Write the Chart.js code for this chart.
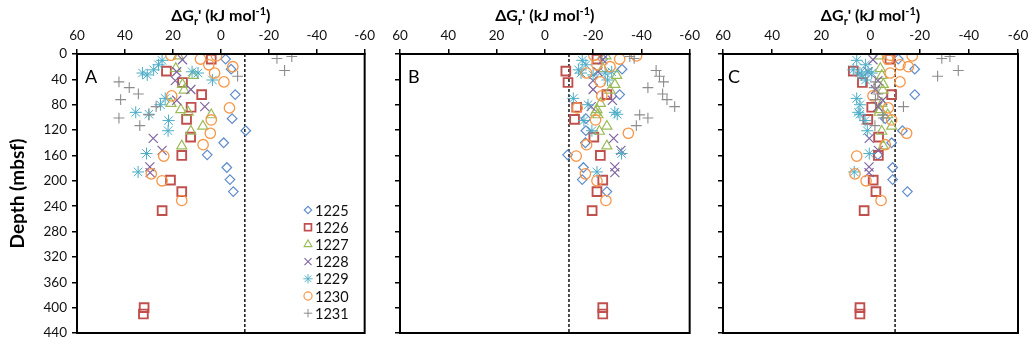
<!DOCTYPE html>
<html>
<head>
<meta charset="utf-8">
<script src="https://cdn.jsdelivr.net/npm/chart.js@4.4.1/dist/chart.umd.min.js"></script>
<style>
html,body{margin:0;padding:0;background:#fff;width:1034px;height:347px;overflow:hidden}
.panel{position:absolute;top:0;height:347px}
canvas{display:block}
</style>
</head>
<body>
<div class="panel" style="left:0;width:380px"><canvas id="cA" width="380" height="347"></canvas></div>
<div class="panel" style="left:380px;width:325px"><canvas id="cB" width="325" height="347"></canvas></div>
<div class="panel" style="left:705px;width:329px"><canvas id="cC" width="329" height="347"></canvas></div>
<script>
// ---------- DATA ----------
const sites = ['1225', '1226', '1227', '1228', '1229', '1230', '1231'];
const xTickValues = [60, 40, 20, 0, -20, -40, -60];
const yTickValues = [0, 40, 80, 120, 160, 200, 240, 280, 320, 360, 400, 440];
const thresholdDG = [-10];

// depths (mbsf) of the samples of each site
const depth1225 = [8, 24, 64, 102, 121, 140, 159, 179, 198, 217];
const depth1226 = [8, 27, 45, 64, 84, 103, 131, 160, 199, 217, 247, 400, 410];
const depth1227 = [3, 23, 34, 48, 57, 78, 88, 92, 96, 114, 122, 145];
const depth1228 = [9, 28, 42, 56, 73, 83, 133, 152, 178, 187];
const depth1229 = [10, 17, 25, 30, 33, 28, 30, 41, 70, 80, 92, 95, 105, 121, 157, 186];
const depth1230 = [2, 8, 3, 17, 20, 30, 44, 66, 85, 104, 125, 143, 161, 189, 200, 231];
const depth1231 = [4, 7, 26, 35, 44, 53, 63, 72, 83, 96, 101, 113];

// panel A  (ΔGr', kJ/mol)
const dgA1225 = [-2, -4.3, -6, -4.7, -10.4, -1.2, 5.7, -2.5, -3.8, -5.2];
const dgA1226 = [4, 22.7, 16, 8, 12.4, 14.3, 12.6, 16.3, 21, 16.3, 24.5, 32, 32.3];
const dgA1227 = [17.7, 18.8, 11.5, 16, 15.3, 20.8, 16.7, 13.6, 4, 7.5, 12.5, 16.3];
const dgA1228 = [16, 18.4, 19, 12.5, 18.4, 6.7, 28.2, 24.5, 29.6, 29.5];
const dgA1229 = [24.5, 26, 28, 32.7, 30.7, 12, 9.5, 3.5, 23.2, 25.2, 35.5, 30, 21.8, 22, 31, 34.5];
const dgA1230 = [20.8, 8.5, 1.8, 5, -5, 2.6, -1.3, 20.5, -3.6, 4, 4.4, 7.4, 23.8, 29, 24.5, 16.3];
const dgA1231 = [-29.6, -23.4, -26.6, -7, 42.5, 38.2, 34.4, 41.8, 27, 30, 42.5, 33.8];

// panel B
const dgB1225 = [-24, -32, -31, -17, -17, -16.8, -9.4, -16, -15.5, -25.7];
const dgB1226 = [-21.6, -8.7, -9.6, -25.7, -13.2, -12.3, -20.3, -23, -24, -21.6, -19.6, -24, -24];
const dgB1227 = [-25.3, -24, -29.8, -29, -27, -23, -21.6, -21, -22, -25.7, -22.6, -25.7];
const dgB1228 = [-24, -22, -20, -20, -28, -19.2, -28.5, -31.5, -29, -29];
const dgB1229 = [-15.5, -17, -14, -15, -20, -27.7, -25, -26, -11.8, -17.9, -29, -30, -16.2, -19.5, -31.8, -21.6];
const dgB1230 = [-20.3, -31, -38, -21.6, -27, -17.3, -23, -23.6, -13.4, -21, -34.6, -17.3, -13, -16.8, -21.6, -25.3];
const dgB1231 = [-35.2, -37, -46.1, -47.5, -49.2, -42.7, -48.8, -50.6, -53.8, -39.3, -42.7, -37.9];

// panel C
const dgC1225 = [-11.3, -18, -18, -6, -13, -8.6, -3, -9, -9, -15];
const dgC1226 = [-7.9, 7, 3.3, -8.6, -0.5, 1.1, -3.3, -3.2, -1.1, -2.2, 2.6, 4.3, 4.3];
const dgC1227 = [-3.5, -4, -4.6, -5.2, -5, -4.6, -3.9, -3.5, -7, -8.6, -4.6, -5.2];
const dgC1228 = [-1, 1, -3, -2, -5, -3, 0.5, -3.2, 0.6, 0.6];
const dgC1229 = [5.6, 2, 7, 4.3, 3.6, 1, -0.5, 2, 5.6, 4.3, 5, 4.3, 2.2, 1.3, 0.5, 6.6];
const dgC1230 = [-8, -7, -17, -12, -15.4, -8, -12, -1, -7.2, -8.6, -14.7, -6, 5.6, 6.3, 1.8, -4.3];
const dgC1231 = [-32.3, -29, -35.7, -27.3, -2, -1.5, -3, -2, -13.4, -5, -5.2, -1.8];

// ---------- STYLE ----------
const depths = [depth1225, depth1226, depth1227, depth1228, depth1229, depth1230, depth1231];
const panelA = [dgA1225, dgA1226, dgA1227, dgA1228, dgA1229, dgA1230, dgA1231];
const panelB = [dgB1225, dgB1226, dgB1227, dgB1228, dgB1229, dgB1230, dgB1231];
const panelC = [dgC1225, dgC1226, dgC1227, dgC1228, dgC1229, dgC1230, dgC1231];

const colors = ['#5f8ccb', '#c0504d', '#9bbb59', '#8064a2', '#4bacc6', '#f79646', '#8c8c8c'];
const pstyles = ['rectRot', 'rect', 'triangle', 'crossRot', 'star', 'circle', 'cross'];
const radii = [4.8, 6.2, 5.8, 6.4, 6.0, 5.2, 5.4];
const bws = [1.2, 1.9, 1.2, 1.2, 1.0, 1.3, 1.1];
const FONT = 'Lato, "Open Sans", sans-serif';

function drawTitle(ctx, cx, base) {
  const big = 'bold 16px ' + FONT, small = 'bold 11px ' + FONT;
  const parts = [
    ['ΔG', big, 0], ['r', small, 4], ["' (kJ mol", big, 0], ['-1', small, -6], [')', big, 0]
  ];
  let w = 0;
  parts.forEach(p => { ctx.font = p[1]; w += ctx.measureText(p[0]).width; });
  let x = cx - w / 2;
  ctx.fillStyle = '#000';
  ctx.textAlign = 'left';
  ctx.textBaseline = 'alphabetic';
  parts.forEach(p => { ctx.font = p[1]; ctx.fillText(p[0], x, base + p[2]); x += ctx.measureText(p[0]).width; });
}

function drawLegend(ctx) {
  const drawPoint = Chart.helpers && Chart.helpers.drawPoint;
  sites.forEach((s, i) => {
    const y = 210 + i * 17.2;
    ctx.save();
    ctx.strokeStyle = colors[i];
    ctx.fillStyle = 'rgba(0,0,0,0)';
    ctx.lineWidth = bws[i] * 0.9;
    if (drawPoint) drawPoint(ctx, {pointStyle: pstyles[i], radius: radii[i] * 0.78, rotation: 0, borderWidth: bws[i] * 0.9}, 308, y);
    ctx.restore();
    ctx.fillStyle = '#111';
    ctx.font = '14.5px ' + FONT;
    ctx.textAlign = 'left';
    ctx.textBaseline = 'middle';
    ctx.fillText(s, 315, y + 1);
  });
}

const deco = {
  id: 'deco',
  afterDraw(chart, args, opts) {
    const ctx = chart.ctx, a = chart.chartArea;
    ctx.save();
    ctx.strokeStyle = '#000';
    ctx.lineWidth = 2;
    ctx.strokeRect(a.left, a.top, a.right - a.left, a.bottom - a.top);
    ctx.fillStyle = '#000';
    ctx.font = '18px ' + FONT;
    ctx.textAlign = 'left';
    ctx.textBaseline = 'alphabetic';
    ctx.fillText(opts.letter, a.left + opts.letterDx, a.top + 29);
    drawTitle(ctx, (a.left + a.right) / 2, 21);
    if (opts.legend) drawLegend(ctx);
    ctx.restore();
  }
};

function makeChart(id, values, cfg) {
  const datasets = [{
    label: 'threshold',
    data: [{x: thresholdDG[0], y: 0}, {x: thresholdDG[0], y: 440}],
    showLine: true, borderColor: '#222', borderWidth: 1.6, borderDash: [3, 2],
    pointRadius: 0, order: 100
  }];
  sites.forEach((s, i) => {
    datasets.push({
      label: s,
      data: depths[i].map((d, j) => ({x: values[i][j], y: d})),
      pointStyle: pstyles[i], pointRadius: radii[i], pointBorderWidth: bws[i],
      borderColor: colors[i], backgroundColor: 'rgba(0,0,0,0)', order: 10 - i
    });
  });
  return new Chart(document.getElementById(id), {
    type: 'scatter',
    data: {datasets},
    plugins: [deco],
    options: {
      responsive: false, animation: false, devicePixelRatio: 1,
      layout: {padding: {left: 0, top: 0, right: cfg.padRight, bottom: 14}},
      plugins: {legend: {display: false}, tooltip: {enabled: false},
        deco: {letter: cfg.letter, letterDx: cfg.letterDx, legend: cfg.legend}},
      scales: {
        x: {
          type: 'linear', position: 'top', reverse: true, min: -60, max: 60,
          afterBuildTicks: sc => { sc.ticks = xTickValues.map(v => ({value: v})); },
          afterFit: sc => { sc.height = 54; },
          ticks: {font: {family: FONT, size: 13.5}, color: '#111', padding: 5, maxRotation: 0},
          grid: {drawOnChartArea: false, drawTicks: true, tickLength: 5, color: '#000', lineWidth: 1.5},
          border: {display: true, color: '#000', width: 2}
        },
        y: {
          type: 'linear', position: 'left', reverse: true, min: 0, max: 440,
          afterBuildTicks: sc => { sc.ticks = yTickValues.map(v => ({value: v})); },
          afterFit: sc => { sc.width = cfg.yWidth; },
          ticks: {display: cfg.yLabels, font: {family: FONT, size: 13.5}, color: '#111', padding: 5},
          grid: {drawOnChartArea: false, drawTicks: true, tickLength: 5, color: '#000', lineWidth: 1.5},
          border: {display: true, color: '#000', width: 2},
          title: {display: cfg.yLabels, text: 'Depth (mbsf)', color: '#000',
            font: {family: FONT, size: 19, weight: 'bold'}, padding: {top: 6, bottom: 0}}
        }
      }
    }
  });
}

makeChart('cA', panelA, {padRight: 9, yWidth: 77, yLabels: true, letter: 'A', letterDx: 8, legend: true});
makeChart('cB', panelB, {padRight: 11, yWidth: 20, yLabels: false, letter: 'B', letterDx: 8, legend: false});
makeChart('cC', panelC, {padRight: 16, yWidth: 18, yLabels: false, letter: 'C', letterDx: 5, legend: false});
</script>
</body>
</html>
